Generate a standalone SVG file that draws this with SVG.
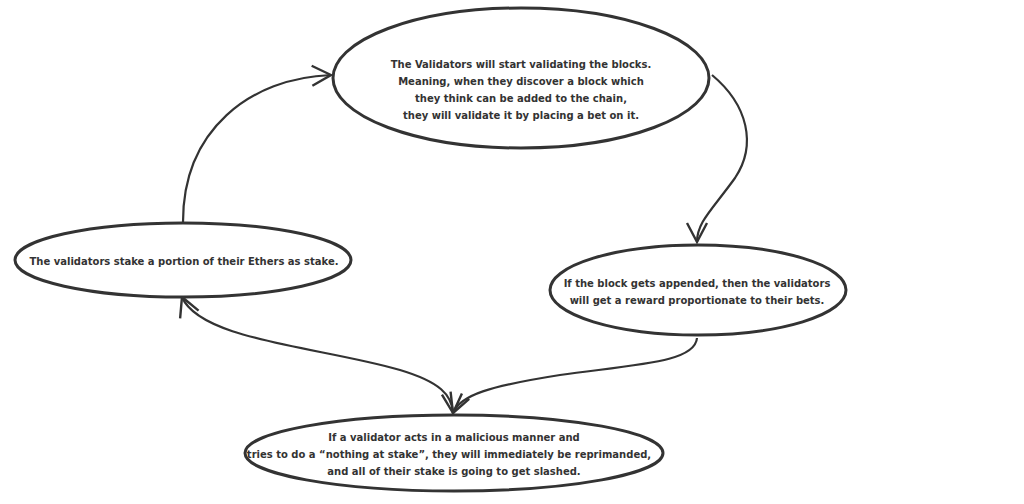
<svg xmlns="http://www.w3.org/2000/svg" width="1024" height="504" viewBox="0 0 1024 504">
<style>
.node ellipse{fill:#fff;stroke:#333;stroke-width:3}
.node text{font-family:"DejaVu Sans",Verdana,sans-serif;font-weight:bold;font-size:10px;fill:#333;text-anchor:middle}
.edge{fill:none;stroke:#333;stroke-width:2.2}
</style>
<defs>
<marker id="arr" markerUnits="userSpaceOnUse" markerWidth="26" markerHeight="26" viewBox="-22 -13 26 26" refX="0" refY="0" orient="auto-start-reverse" overflow="visible">
<path d="M-19,-10 L0,0 L-19,10" fill="none" stroke="#333" stroke-width="2.4"/>
</marker>
</defs>
<rect width="1024" height="504" fill="#fff"/>
<g id="connectors">
<path class="edge" d="M183,222 C183,130 250,78 331,75" marker-end="url(#arr)"/>
<path class="edge" d="M712,75 C748,105 757,145 735,178 C712,210 697,222 697,242" marker-end="url(#arr)"/>
<path class="edge" d="M697,338 C695,362 640,364 560,375 C490,386 460,395 453,413" marker-end="url(#arr)"/>
<path class="edge" d="M182,297 C200,340 320,347 400,370 C440,382 452,395 453,413" marker-start="url(#arr)" marker-end="url(#arr)"/>
</g>
<g id="node-validate" class="node">
<ellipse cx="521" cy="78" rx="188" ry="70"/>
<text x="521" y="68">The Validators will start validating the blocks.</text>
<text x="521" y="85">Meaning, when they discover a block which</text>
<text x="521" y="102">they think can be added to the chain,</text>
<text x="521" y="119">they will validate it by placing a bet on it.</text>
</g>
<g id="node-stake" class="node">
<ellipse cx="183" cy="260" rx="168" ry="37"/>
<text x="184" y="265">The validators stake a portion of their Ethers as stake.</text>
</g>
<g id="node-reward" class="node">
<ellipse cx="698" cy="290" rx="148" ry="45"/>
<text x="697" y="287">If the block gets appended, then the validators</text>
<text x="697" y="304">will get a reward proportionate to their bets.</text>
</g>
<g id="node-slash" class="node">
<ellipse cx="454" cy="453" rx="209" ry="38"/>
<text x="454" y="441">If a validator acts in a malicious manner and</text>
<text x="449" y="458">tries to do a “nothing at stake”, they will immediately be reprimanded,</text>
<text x="454" y="475">and all of their stake is going to get slashed.</text>
</g>
</svg>
